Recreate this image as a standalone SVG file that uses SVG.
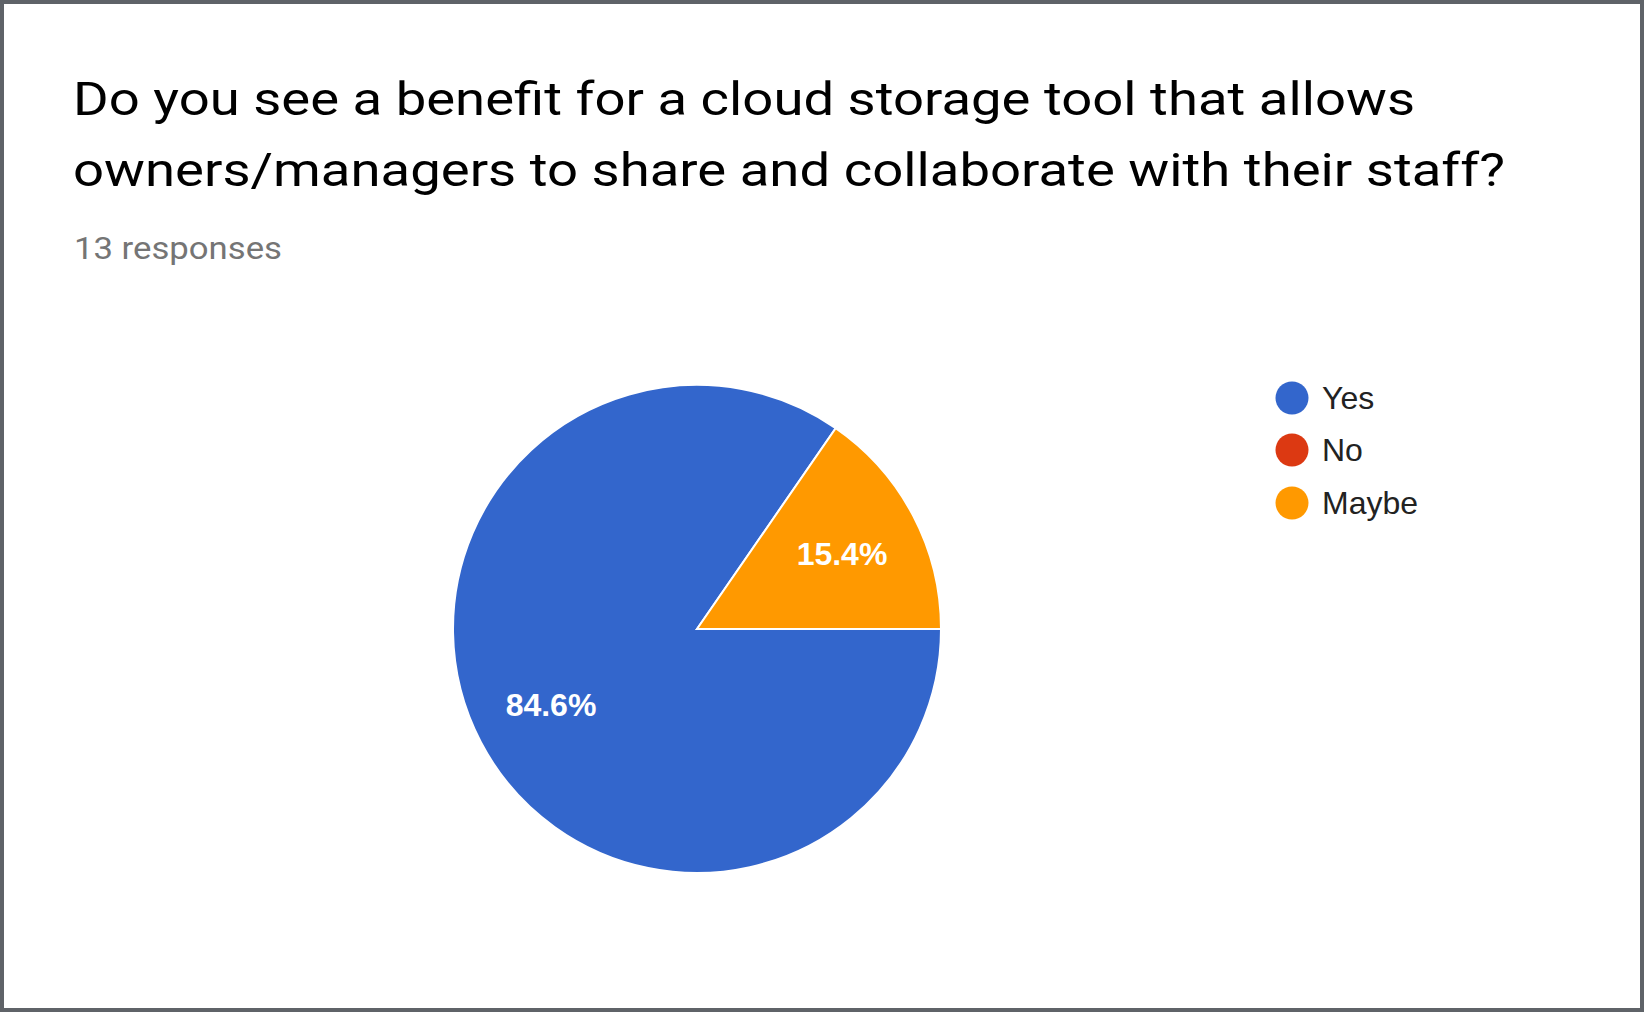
<svg xmlns="http://www.w3.org/2000/svg" width="1644" height="1012" viewBox="0 0 1644 1012">
<style>
.title{font-family:Roboto,"Liberation Sans",sans-serif;font-size:47px;fill:#000}
.sub{font-family:Roboto,"Liberation Sans",sans-serif;font-size:32px;fill:#757575}
.plabel{font-family:"Liberation Sans",Arial,sans-serif;font-size:32px;font-weight:bold;fill:#fff;text-anchor:middle}
.leg{font-family:"Liberation Sans",Arial,sans-serif;font-size:32px;fill:#222}
.slice{stroke:#fff;stroke-width:2}
</style>
<rect x="2" y="2" width="1640" height="1008" fill="#fff" stroke="#5f6368" stroke-width="4"/>
<g id="title">
<text class="title" x="73" y="115" textLength="1342" lengthAdjust="spacingAndGlyphs">Do you see a benefit for a cloud storage tool that allows</text>
<text class="title" x="73" y="186" textLength="1432" lengthAdjust="spacingAndGlyphs">owners/managers to share and collaborate with their staff?</text>
</g>
<g id="responses"><text class="sub" x="74" y="259" textLength="208" lengthAdjust="spacingAndGlyphs">13 responses</text></g>
<g id="pie">
<g id="slice-yes"><path class="slice" fill="#3366cc" d="M697,629 L941,629 A244,244 0 1 1 835.7,428.2 Z"/></g>
<g id="slice-maybe"><path class="slice" fill="#ff9900" d="M697,629 L835.7,428.2 A244,244 0 0 1 941,629 Z"/></g>
<text class="plabel" x="842" y="565">15.4%</text>
<text class="plabel" x="551" y="716">84.6%</text>
</g>
<g id="legend">
<g id="legend-yes"><circle cx="1292" cy="398" r="16.5" fill="#3366cc"/><text class="leg" x="1322" y="409">Yes</text></g>
<g id="legend-no"><circle cx="1292" cy="450" r="16.5" fill="#dc3912"/><text class="leg" x="1322" y="461">No</text></g>
<g id="legend-maybe"><circle cx="1292" cy="503" r="16.5" fill="#ff9900"/><text class="leg" x="1322" y="514">Maybe</text></g>
</g>
</svg>
